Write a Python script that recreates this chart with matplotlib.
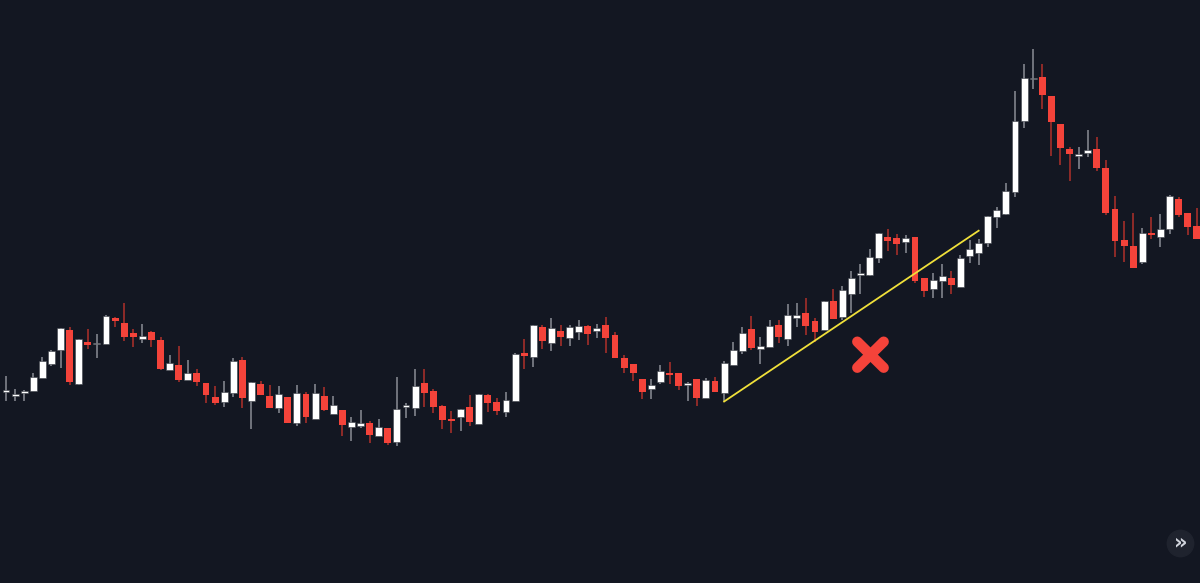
import numpy as np
import matplotlib.pyplot as plt

# Valores OHLC (escala de precio arbitraria)
apertura = [191, 187.3, 190, 191.7, 205, 219.3, 233, 253, 199.3, 241,
            238.7, 238.7, 264.7, 260, 250.3, 244.3, 251, 243, 213, 217.7,
            203.3, 209.7, 200, 185.7, 181, 189.7, 223, 182, 199, 187,
            174.7, 186.3, 160.3, 188.7, 164.3, 187, 169, 172.7, 156.3, 157.3,
            159.7, 147.3, 155.3, 141, 175.7, 175.3, 200, 192, 177, 164,
            166.3, 175.7, 158.7, 187.7, 180.7, 171.3, 182.3, 230.3, 226.3, 255.7,
            240.3, 251.7, 245, 251.3, 256.7, 251.7, 258, 248, 225.3, 219,
            203.7, 193.7, 201, 210.3, 209.7, 198.3, 204, 184.7, 202, 189.7,
            217.7, 232, 254.3, 234.3, 236.3, 258, 244.3, 265, 270.3, 262.3,
            253, 281.7, 265.7, 289, 308.3, 308, 324.7, 346.3, 344.7, 341.3,
            345.7, 305.3, 293.7, 302, 305.3, 296.3, 327.3, 330.3, 339.7, 366.3,
            369, 391.3, 461.7, 503.7, 506.3, 487, 459, 434.3, 427.3, 429.7,
            434.3, 415, 374, 343, 336.7, 321, 349.7, 346.3, 353.7, 384,
            369.7, 357]
maximo = [207, 194.3, 193, 210.3, 226.3, 233, 255, 256, 244, 253.7,
          249, 268.3, 265.7, 280.3, 254.3, 259.3, 252, 245.7, 228, 237,
          223.3, 213.7, 200, 197, 201.7, 224.7, 226, 201, 201.7, 198,
          197, 186.3, 198, 191.3, 198.7, 196.3, 187.3, 172.7, 166.3, 173,
          162, 164, 155.3, 206.3, 179.7, 213.7, 213.7, 194.3, 178, 172,
          174.3, 188, 189, 189, 185.3, 190.7, 230, 244, 257.7, 258,
          265, 258, 258, 263, 258, 259, 266.3, 250.7, 227.7, 219,
          203.7, 204, 218.3, 221, 209.7, 200.7, 204, 204.7, 206.3, 222,
          240.7, 256.5, 267, 246.3, 263, 263, 279, 279.7, 284.7, 265.3,
          282, 293.7, 297, 312, 318.7, 333.7, 350.3, 353.7, 349, 348,
          345.7, 305.3, 310.3, 319, 312, 328, 343, 343.7, 367, 376.3,
          399.7, 492, 519, 533.7, 519, 487, 459, 435.7, 436, 453,
          445.7, 423, 387.3, 362, 370.3, 354.7, 365.7, 369, 388, 386.3,
          369.7, 375.3]
minimo = [182, 182, 182, 191.7, 205, 217, 215.3, 198.3, 198.3, 234.3,
          225, 238.7, 255.7, 242.3, 236.3, 240.3, 236.3, 213, 213, 201.3,
          203.3, 197.3, 180.3, 178, 176.3, 185.7, 175.3, 154.3, 188.3, 175.3,
          169.7, 160.3, 157, 159.7, 164.3, 172.3, 169, 147.3, 142.3, 154.7,
          140.3, 147.3, 137.7, 137, 165.3, 167, 176.3, 170.3, 154.3, 149.7,
          152.3, 157, 158.7, 171.3, 168.3, 166.3, 182.3, 214, 216.3, 234.3,
          232, 237, 237, 243, 238.3, 245.3, 229.7, 224.7, 209.7, 202.3,
          184, 184, 199.3, 198.7, 193, 182.3, 177, 184.7, 191.3, 182,
          217.7, 229, 233, 219, 236.3, 240.3, 237, 255.7, 248, 240.7,
          253, 264.3, 263, 270.3, 289, 307.3, 319.7, 332.3, 328, 329.7,
          300.3, 285.7, 284.7, 284.7, 289, 296.3, 320.3, 318, 336.3, 354.7,
          368, 386.3, 455.3, 493.7, 473.7, 427.3, 417.7, 402.3, 414.3, 425.7,
          412.3, 368.3, 325.7, 321.3, 315.3, 318.7, 344.3, 336.3, 349, 365.7,
          348, 344]
cierre = [192, 188.7, 192, 206.3, 221.7, 232, 255, 201, 244, 238.3,
          240.3, 267, 261.7, 246.3, 245.7, 247, 242.7, 213.7, 220, 203.3,
          209.7, 201, 188, 179.7, 190.7, 221.7, 185, 201, 188.3, 175.3,
          188.7, 160.3, 190.3, 165.7, 189.7, 173, 177.7, 158, 160.7, 159.7,
          148.3, 155.7, 140.3, 173.7, 178.3, 196.7, 190.3, 176, 162.7, 162.3,
          173.7, 161, 188.7, 180, 172.3, 183, 229.3, 227.3, 257.7, 242,
          255, 246.3, 255.7, 256.7, 248.7, 255, 245, 224.7, 215.3, 209.7,
          191.3, 198, 212, 208.3, 197.3, 199.7, 184.7, 203, 191.3, 220,
          233, 250.3, 235, 236.7, 257.3, 246.3, 268.3, 268.3, 257, 250.7,
          281.7, 264.3, 293, 305, 309.7, 326.3, 349.7, 342.3, 338.7, 345.3,
          302.3, 292, 303, 307, 297.7, 325.3, 333.7, 339.7, 367, 372.7,
          392, 462.3, 505.3, 505.3, 488, 460.7, 435.3, 429, 428.7, 432.7,
          415.3, 370.3, 342.3, 337, 315.3, 350.3, 347.7, 353.7, 386.7, 368.3,
          356.3, 344]

# Linea de tendencia (vela inicial, vela final) y precios
linea_velas = [79, 107]
linea_precios = [181.5, 352.3]

# Posicion de la cruz roja
cruz_vela = 95.1
cruz_precio = 228.3

o = np.array(apertura)
h = np.array(maximo)
l = np.array(minimo)
c = np.array(cierre)
x = np.arange(len(o))
sube = c >= o

fondo = '#131722'
blanco = '#ffffff'
rojo = '#f4433a'

fig = plt.figure(figsize=(12, 5.83), dpi=100, facecolor=fondo)
ax = fig.add_axes([0, 0, 1, 1])
ax.set_facecolor(fondo)

# Mechas
ax.vlines(x[sube], l[sube], h[sube], color='#8a8d96', linewidth=1.1, zorder=2)
ax.vlines(x[~sube], l[~sube], h[~sube], color='#b0302b', linewidth=1.1, zorder=2)

# Cuerpos
base = np.minimum(o, c)
alto = np.maximum(np.abs(c - o), 1.6)
ax.bar(x[sube], alto[sube], bottom=base[sube], width=0.76, color=blanco,
       edgecolor='#3a3e48', linewidth=0.4, zorder=3)
ax.bar(x[~sube], alto[~sube], bottom=base[~sube], width=0.76, color=rojo,
       linewidth=0, zorder=3)

# Linea de tendencia amarilla
ax.plot(linea_velas, linea_precios, color='#f0e03a', linewidth=1.3, zorder=4)

# Cruz roja
d = 1.45
ax.plot([cruz_vela - d, cruz_vela + d], [cruz_precio + 13, cruz_precio - 13],
        color=rojo, linewidth=7.5, solid_capstyle='round', zorder=5)
ax.plot([cruz_vela - d, cruz_vela + d], [cruz_precio - 13, cruz_precio + 13],
        color=rojo, linewidth=7.5, solid_capstyle='round', zorder=5)

ax.set_xlim(-0.66, 131.35)
ax.set_ylim(0, 583)
ax.axis('off')

# Boton de desplazamiento abajo a la derecha
ax.scatter([129.2], [40], s=360, color='#1f232e', zorder=6)
ax.text(129.2, 41, '»', color='#d1d4dc', fontsize=15, fontweight='bold',
        ha='center', va='center', zorder=7)

fig.savefig('out.png', dpi=100, facecolor=fondo)
